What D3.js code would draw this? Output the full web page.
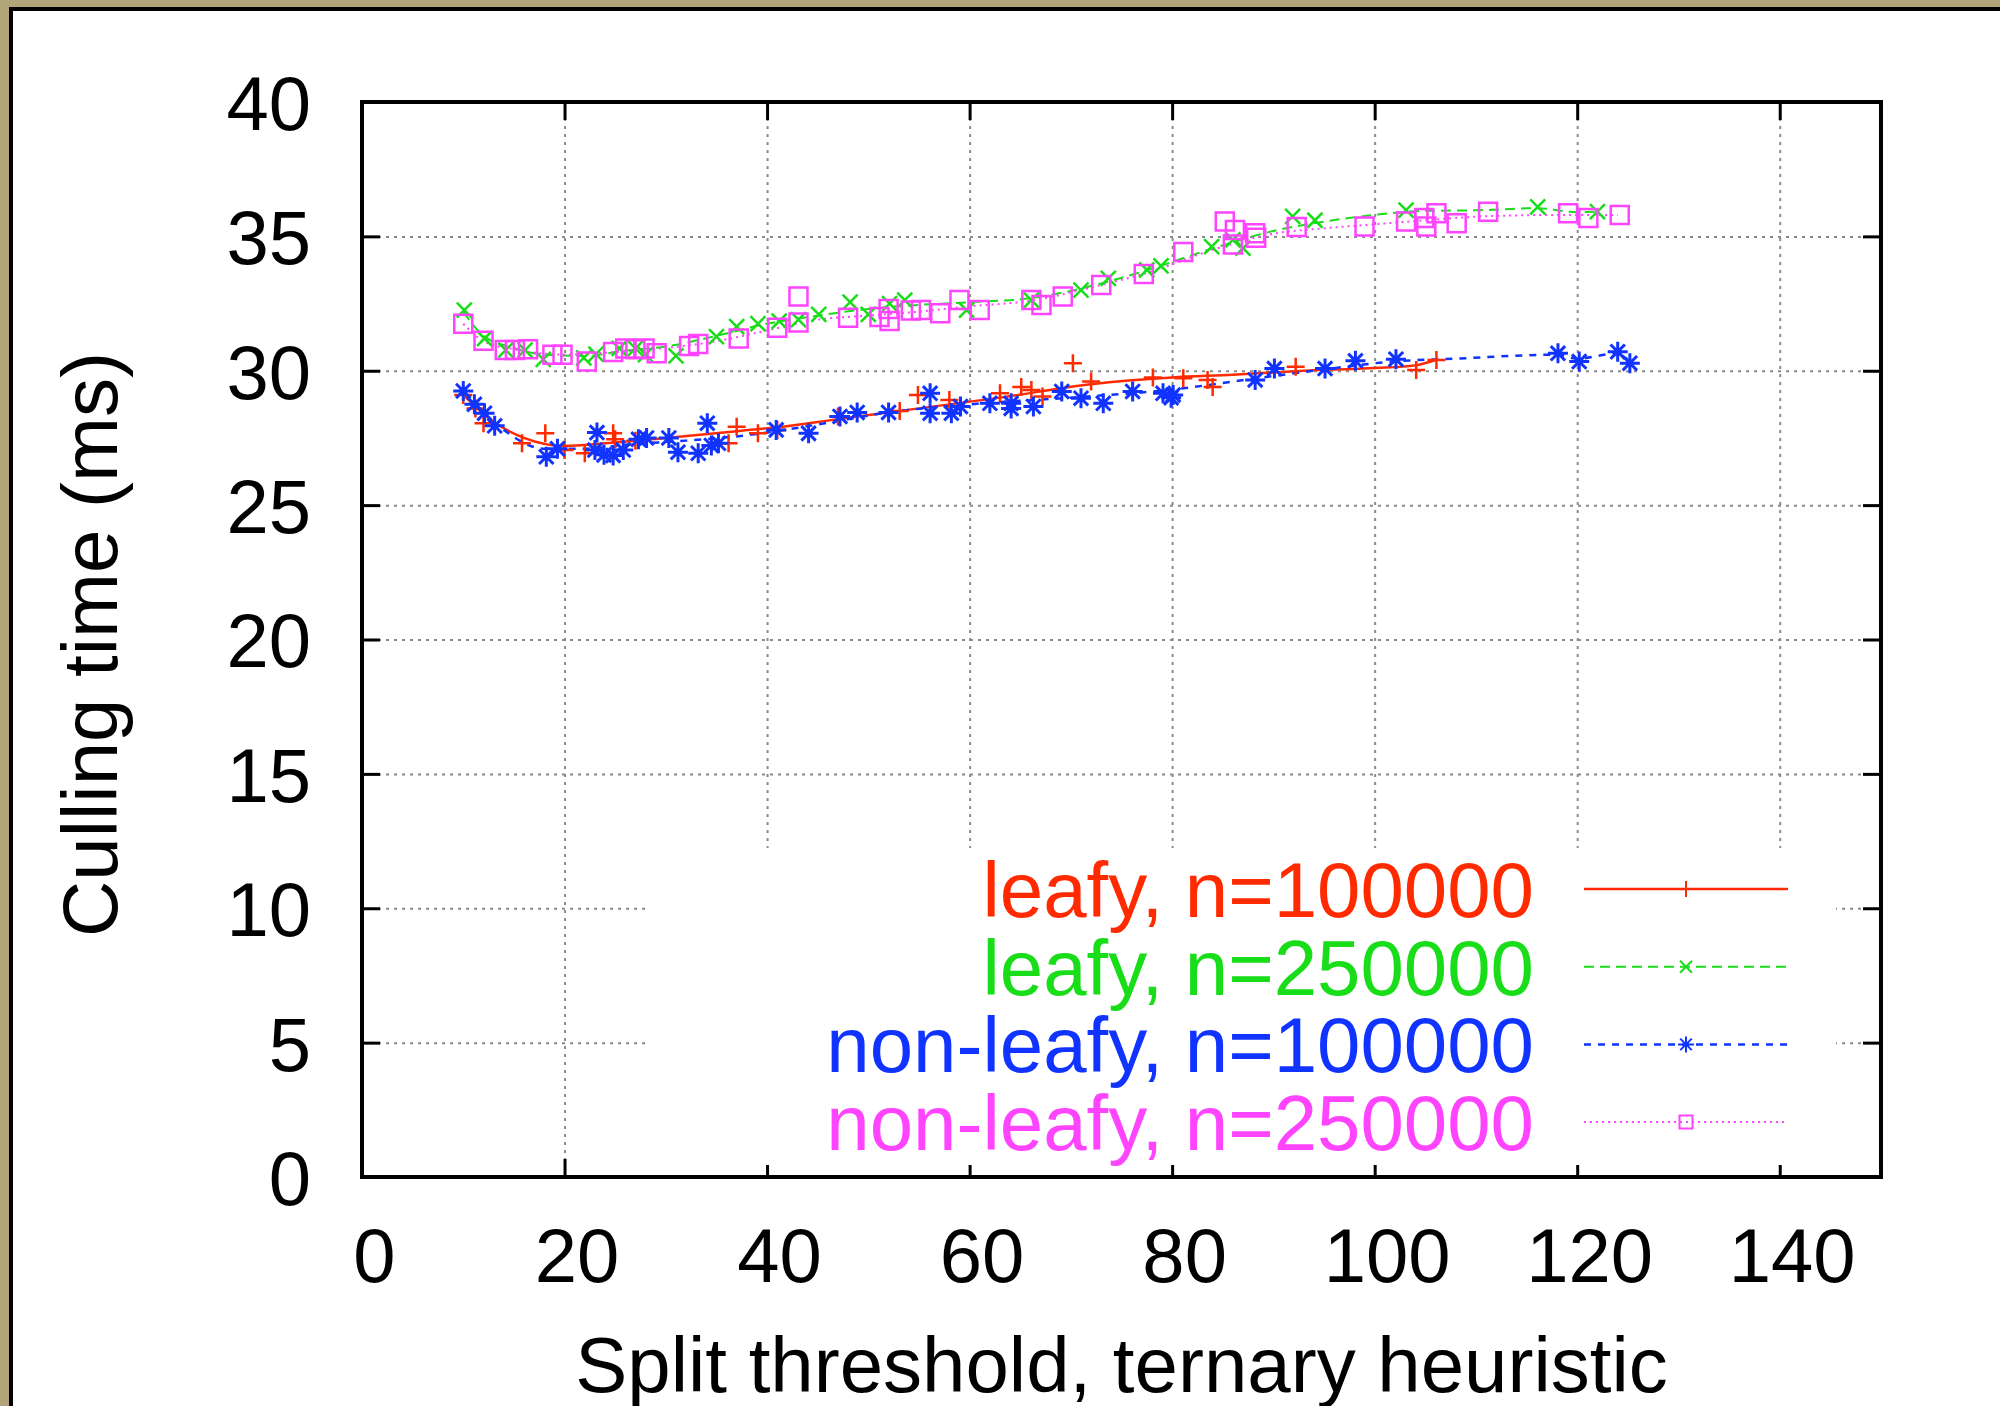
<!DOCTYPE html>
<html>
<head>
<meta charset="utf-8">
<script src="https://cdn.jsdelivr.net/npm/d3@7"></script>
<style>
  body { margin: 0; background: #b2a479; overflow: hidden; }
  text { font-family: "Liberation Sans", Arial, Helvetica, sans-serif; }
</style>
</head>
<body>
<div id="chart"></div>
<script>
// Data: [split threshold, culling time (ms)]
const leafy100k = [
  [10, 29.1], [11.2, 28.6], [12, 28.05], [15.8, 27.3], [18.1, 27.67], [20, 27.05], [22, 26.93],
  [24.8, 27.67], [25, 27.45], [27, 27.4], [36.2, 27.3], [37, 27.92], [39.1, 27.67], [41, 27.8],
  [47, 28.3], [53.1, 28.5], [54.9, 29.1], [58, 28.91], [63, 29.16], [65.1, 29.4], [66.1, 29.28],
  [67.2, 29.04], [70.2, 30.28], [72, 29.6], [78.1, 29.75], [81.1, 29.72], [83.5, 29.66], [84, 29.4],
  [92.2, 30.15], [104.1, 30.03], [106.1, 30.4]
];
const leafy250k = [
  [10.1, 32.26], [12.1, 31.2], [14.2, 30.77], [16.1, 30.77], [17.9, 30.42], [21.9, 30.48], [23.1, 30.62],
  [25.4, 30.83], [27, 30.83], [28, 30.6], [31, 30.55], [35, 31.27], [37, 31.64], [39.1, 31.75],
  [41.2, 31.85], [43.1, 31.9], [45.1, 32.1], [48.2, 32.55], [50, 32.1], [52.1, 32.5], [53.6, 32.63],
  [59.7, 32.26], [66.1, 32.63], [71, 33.0], [73.7, 33.44], [77.5, 33.75], [78.9, 33.9], [83.9, 34.62],
  [86, 34.87], [87, 34.56], [91.9, 35.74], [94.1, 35.6], [103.1, 35.98], [116.1, 36.1], [122, 35.92]
];
const nonLeafy100k = [
  [10, 29.25], [11.1, 28.75], [12.1, 28.42], [13.1, 27.95], [18.2, 26.8], [19.3, 27.1], [23.2, 27.7],
  [23, 27.05], [23.9, 26.87], [24.8, 26.85], [25.8, 27.05], [27.3, 27.45], [28.1, 27.5], [30.3, 27.5],
  [31.2, 26.97], [33.2, 26.93], [34.1, 28.05], [34.5, 27.22], [35.2, 27.3], [40.9, 27.8], [44.1, 27.67],
  [47.2, 28.3], [48.9, 28.45], [52, 28.45], [56.1, 29.16], [56.1, 28.42], [58.2, 28.42], [59.1, 28.67],
  [62, 28.79], [64.1, 28.79], [64.1, 28.6], [66.3, 28.67], [69.1, 29.23], [71, 28.98], [73.2, 28.79],
  [76.1, 29.23], [79.1, 29.16], [80.1, 29.1], [79.9, 29.0], [88.2, 29.66], [90.1, 30.08], [95.1, 30.08],
  [98.1, 30.37], [102.1, 30.43], [118.1, 30.65], [120.2, 30.34], [124, 30.71], [125.2, 30.28]
];
const nonLeafy250k = [
  [10, 31.75], [12, 31.12], [14.1, 30.77], [15.1, 30.77], [16.4, 30.8], [18.8, 30.6], [19.8, 30.6],
  [22.2, 30.34], [24.8, 30.7], [26, 30.83], [27, 30.8], [27.9, 30.83], [29.1, 30.65], [32.3, 30.92],
  [33.2, 31.0], [37.2, 31.2], [41, 31.6], [43.1, 32.76], [43.1, 31.8], [48, 31.97], [51.1, 32.0],
  [52, 32.3], [52.1, 31.85], [54.2, 32.24], [55.2, 32.26], [57.1, 32.14], [59, 32.63], [61, 32.26],
  [66.1, 32.63], [67.1, 32.45], [69.2, 32.76], [73, 33.19], [77.2, 33.6], [81.1, 34.42], [85.2, 35.55],
  [86.2, 35.24], [86, 34.7], [88.2, 35.12], [88.3, 34.95], [92.3, 35.35], [99, 35.37], [103.1, 35.55],
  [104.9, 35.68], [105.1, 35.37], [106.1, 35.86], [108.1, 35.49], [111.2, 35.92], [119.1, 35.86],
  [121.1, 35.68], [124.2, 35.8]
];

// Smoothed curves, as traced on the picture
const leafy100kCurve = [
  [10, 29.1], [13, 28.1], [16, 27.5], [20, 27.2], [24, 27.3], [30, 27.5], [37, 27.75], [41, 27.9],
  [47, 28.2], [55, 28.6], [63, 29.0], [72, 29.5], [80, 29.75], [86, 29.85], [93, 30.0], [100, 30.1],
  [104, 30.2], [106, 30.4]
];
const leafy250kCurve = [
  [10, 32.2], [12, 31.3], [15, 30.85], [18, 30.6], [22, 30.55], [26, 30.75], [30, 30.9], [35, 31.3],
  [40, 31.75], [45, 32.05], [50, 32.3], [55, 32.45], [60, 32.55], [66, 32.7], [72, 33.15], [78, 33.8],
  [84, 34.55], [90, 35.2], [95, 35.55], [100, 35.8], [105, 35.95], [110, 35.97], [116, 36.05],
  [120, 35.9], [122, 35.92]
];
const nonLeafy100kCurve = [
  [10, 29.25], [12, 28.45], [14, 27.8], [18, 27.1], [22, 27.1], [26, 27.25], [32, 27.4], [38, 27.6],
  [45, 28.0], [52, 28.45], [60, 28.75], [70, 29.0], [80, 29.3], [88, 29.7], [95, 30.05], [102, 30.35],
  [108, 30.45], [118, 30.6], [120, 30.45], [124, 30.65], [125, 30.4]
];
const nonLeafy250kCurve = [
  [10, 31.75], [12, 31.1], [15, 30.8], [20, 30.6], [25, 30.7], [30, 30.85], [35, 31.1], [40, 31.5],
  [45, 31.9], [50, 32.05], [55, 32.2], [60, 32.4], [66, 32.6], [72, 33.1], [78, 33.7], [84, 34.5],
  [90, 35.1], [95, 35.3], [100, 35.45], [105, 35.6], [111, 35.75], [119, 35.8], [124, 35.8]
];

const seriesNames = ["leafy, n=100000", "leafy, n=250000", "non-leafy, n=100000", "non-leafy, n=250000"];
const xTicks = [0, 20, 40, 60, 80, 100, 120, 140];
const yTicks = [0, 5, 10, 15, 20, 25, 30, 35, 40];

// Plot constants
const W = 2000, H = 1406;
const MARGIN = { LEFT: 362, RIGHT: 119, TOP: 102, BOTTOM: 229 };
const WIDTH = W - MARGIN.LEFT - MARGIN.RIGHT;
const HEIGHT = H - MARGIN.TOP - MARGIN.BOTTOM;
const FONT = 76;
const TITLE_FONT = 78;
const TICK = 18;

// Marker paths (gnuplot point types), r = half size in px
const plus = (r) => `M${-r},0H${r}M0,${-r}V${r}`;
const times = (r) => `M${-r},${-r}L${r},${r}M${-r},${r}L${r},${-r}`;
const star = (r) => plus(r) + times(r * 0.72);
const square = (r) => `M${-r},${-r}H${r}V${r}H${-r}Z`;

const series = [
  { name: seriesNames[0], pts: leafy100k, curve: leafy100kCurve, color: "#ff2a00", dash: null, width: 2.5, mark: plus, r: 9, keyR: 8, sw: 2.5 },
  { name: seriesNames[1], pts: leafy250k, curve: leafy250kCurve, color: "#18dd18", dash: "10,6", width: 2, mark: times, r: 7.5, keyR: 6, sw: 2.5 },
  { name: seriesNames[2], pts: nonLeafy100k, curve: nonLeafy100kCurve, color: "#1133ff", dash: "7,7", width: 2.5, mark: star, r: 10, keyR: 8, sw: 3 },
  { name: seriesNames[3], pts: nonLeafy250k, curve: nonLeafy250kCurve, color: "#ff44ff", dash: "2,4", width: 2, mark: square, r: 9, keyR: 6.5, sw: 2.5 }
];

const svg = d3.select("#chart")
  .append("svg")
  .attr("width", W)
  .attr("height", H);

// Page frame
svg.append("rect")
  .attr("x", 11).attr("y", 9)
  .attr("width", W + 50).attr("height", H + 50)
  .attr("fill", "#fff")
  .attr("stroke", "#000")
  .attr("stroke-width", 4);

const g = svg.append("g")
  .attr("transform", "translate(" + MARGIN.LEFT + "," + MARGIN.TOP + ")");

// Scales
const x = d3.scaleLinear().domain([0, 150]).range([0, WIDTH]);
const y = d3.scaleLinear().domain([0, 40]).range([HEIGHT, 0]);

// Grid
const gridStyle = (sel) => {
  sel.select(".domain").remove();
  sel.selectAll(".tick line")
    .attr("stroke", "#8a8a8a")
    .attr("stroke-width", 2)
    .attr("stroke-dasharray", "3,5");
};
g.append("g")
  .attr("transform", "translate(0," + HEIGHT + ")")
  .call(d3.axisBottom(x).tickValues(xTicks.filter((v) => v > 0)).tickSize(-HEIGHT).tickFormat(""))
  .call(gridStyle);
g.append("g")
  .call(d3.axisLeft(y).tickValues(yTicks.filter((v) => v > 0 && v < 40)).tickSize(-WIDTH).tickFormat(""))
  .call(gridStyle);

// Opaque key box hides the grid under it
const KEY = { X: 650, Y: 848, W: 1186, H: 317, TEXT_X: 1534, LINE_X1: 1584, LINE_X2: 1788, ROW0: 889, ROW_STEP: 77.7 };
svg.append("rect")
  .attr("x", KEY.X).attr("y", KEY.Y)
  .attr("width", KEY.W).attr("height", KEY.H)
  .attr("fill", "#fff");

// Curves
const line = d3.line()
  .x((d) => x(d[0]))
  .y((d) => y(d[1]))
  .curve(d3.curveMonotoneX);

series.forEach((s) => {
  g.append("path")
    .datum(s.curve)
    .attr("fill", "none")
    .attr("stroke", s.color)
    .attr("stroke-width", s.width)
    .attr("stroke-dasharray", s.dash)
    .attr("d", line);
});

// Points
series.forEach((s) => {
  g.append("g")
    .selectAll("path")
    .data(s.pts)
    .enter().append("path")
    .attr("transform", (d) => "translate(" + x(d[0]) + "," + y(d[1]) + ")")
    .attr("d", s.mark(s.r))
    .attr("fill", "none")
    .attr("stroke", s.color)
    .attr("stroke-width", s.sw);
});

// Axes with inward ticks on all four sides
const axisStyle = (sel) => {
  sel.select(".domain").remove();
  sel.selectAll(".tick line").attr("stroke", "#000").attr("stroke-width", 3);
  sel.selectAll("text")
    .attr("fill", "#000")
    .style("font-size", FONT + "px")
    .style("font-family", "'Liberation Sans', Arial, Helvetica, sans-serif");
};

g.append("g")
  .attr("transform", "translate(0," + HEIGHT + ")")
  .call(d3.axisBottom(x).tickValues(xTicks).tickSize(-TICK).tickPadding(51))
  .call(axisStyle)
  .selectAll("text").attr("dx", 12);

g.append("g")
  .call(d3.axisLeft(y).tickValues(yTicks).tickSize(-TICK).tickPadding(51))
  .call(axisStyle)
  .selectAll("text").attr("dy", "0.36em");

g.append("g")
  .call(d3.axisTop(x).tickValues(xTicks).tickSize(-TICK).tickFormat(""))
  .call(axisStyle);

g.append("g")
  .attr("transform", "translate(" + WIDTH + ",0)")
  .call(d3.axisRight(y).tickValues(yTicks).tickSize(-TICK).tickFormat(""))
  .call(axisStyle);

// Plot border
g.append("rect")
  .attr("width", WIDTH)
  .attr("height", HEIGHT)
  .attr("fill", "none")
  .attr("stroke", "#000")
  .attr("stroke-width", 4);

// Axis titles
svg.append("text")
  .attr("x", MARGIN.LEFT + WIDTH / 2)
  .attr("y", 1392)
  .attr("text-anchor", "middle")
  .style("font-size", TITLE_FONT + "px")
  .text("Split threshold, ternary heuristic");

svg.append("text")
  .attr("text-anchor", "middle")
  .attr("transform", "translate(117," + (MARGIN.TOP + HEIGHT / 2 + 5) + ")rotate(-90)")
  .style("font-size", TITLE_FONT + "px")
  .text("Culling time (ms)");

// Key
const keyRows = svg.append("g")
  .selectAll("g")
  .data(series)
  .enter().append("g")
  .attr("transform", (d, i) => "translate(0," + (KEY.ROW0 + i * KEY.ROW_STEP) + ")");

keyRows.append("text")
  .attr("x", KEY.TEXT_X)
  .attr("y", 28)
  .attr("text-anchor", "end")
  .attr("fill", (d) => d.color)
  .style("font-size", TITLE_FONT + "px")
  .text((d) => d.name);

keyRows.append("line")
  .attr("x1", KEY.LINE_X1)
  .attr("x2", KEY.LINE_X2)
  .attr("stroke", (d) => d.color)
  .attr("stroke-width", (d) => d.width)
  .attr("stroke-dasharray", (d) => d.dash);

keyRows.append("path")
  .attr("transform", "translate(" + (KEY.LINE_X1 + KEY.LINE_X2) / 2 + ",0)")
  .attr("d", (d) => d.mark(d.keyR))
  .attr("fill", "none")
  .attr("stroke", (d) => d.color)
  .attr("stroke-width", 2);
</script>
</body>
</html>
